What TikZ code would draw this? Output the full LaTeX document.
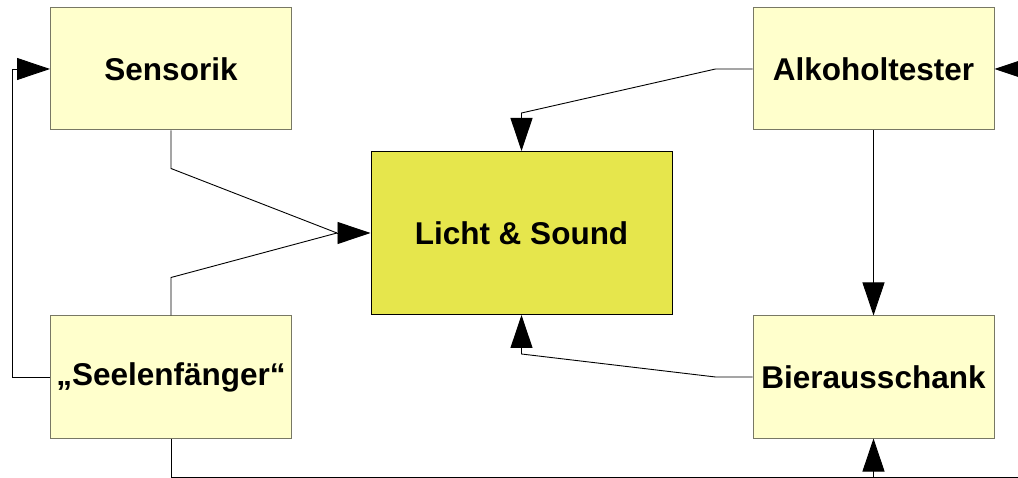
\documentclass[tikz,border=0pt]{standalone}
\usepackage{fontspec}
\setmainfont{Liberation Sans}
\usetikzlibrary{arrows.meta}
\definecolor{lightbox}{RGB}{255,255,204}
\definecolor{mainbox}{RGB}{230,230,76}
\definecolor{boxedge}{RGB}{120,120,100}
\begin{document}
\begin{tikzpicture}[x=1pt,y=-1pt,
  box/.style={rectangle, fill=lightbox, draw=boxedge, line width=1pt, inner sep=0pt,
    minimum width=241pt, minimum height=122pt,
    font=\fontsize{31.5}{38}\selectfont\bfseries},
  mainnode/.style={rectangle, fill=mainbox, draw=black, line width=1pt, inner sep=0pt,
    minimum width=301pt, minimum height=163pt,
    font=\fontsize{31.5}{38}\selectfont\bfseries},
  conn/.style={line width=0.9pt, draw=black},
  arr/.style={conn, -{Triangle[length=33pt,width=22pt]}}]
\useasboundingbox (0,0) rectangle (1018,478);
\clip (0,0) rectangle (1018,478);
\node[box] (sens) at (171,69) {Sensorik};
\node[box] (seel) at (171,377) {„Seelenfänger“};
\node[mainnode] (licht) at (521.5,233) {Licht \& Sound};
\node[box] (alk) at (873.5,69) {Alkoholtester};
\node[box] (bier) at (873.5,377) {Bierausschank};
\coordinate (meet) at (337,233);
\coordinate (bl) at (171,477);
\coordinate (br) at (1045,477);
\coordinate (tr) at (1045,69);
\coordinate (bb) at (873.5,477);
% to Licht & Sound
\draw[conn] (sens.south) -- ++(0,38) -- (meet);
\draw[conn] (seel.north) -- ++(0,-38) -- (meet);
\draw[arr] (meet) -- (licht.west);
\draw[arr] (alk.west) -- ++(-37,0) -- (521.5,113) -- (licht.north);
\draw[arr] (bier.west) -- ++(-37,0) -- (521.5,354) -- (licht.south);
% feedback loops
\draw[arr] (seel.west) -- (12,377) -- (12,69) -- (sens.west);
\draw[arr] (alk.south) -- (bier.north);
\draw[arr] (seel.south) -- (bl) -- (br) -- (tr) -- (alk.east);
\draw[arr] (bb) -- (bier.south);
\end{tikzpicture}
\end{document}
